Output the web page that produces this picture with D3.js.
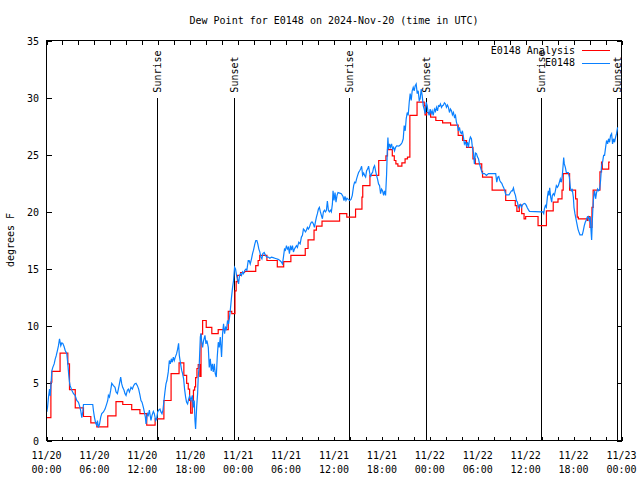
<!DOCTYPE html>
<html><head><meta charset="utf-8">
<script src="https://cdn.jsdelivr.net/npm/d3@7"></script>
<style>
body{margin:0;background:#fff;}
svg{display:block;font-family:"DejaVu Sans Mono","Liberation Mono",monospace;font-size:10px;}
</style></head>
<body><svg id="c" width="640" height="480"></svg>
<script>
const titleText = "Dew Point for E0148 on 2024-Nov-20 (time in UTC)";
const yLabelText = "degrees F";
const seriesNames = ["E0148 Analysis", "E0148"];
const yTickValues = [0, 5, 10, 15, 20, 25, 30, 35];
const eventNames = ["Sunrise", "Sunset", "Sunrise", "Sunset", "Sunrise", "Sunset"];
const eventHours = [13.875, 23.53, 37.875, 47.53, 61.875, 71.4];

// Analysis (red, stepwise) : hours since 2024-11-20 00:00 UTC, value
const redHours = [0,0.55,0.67,1.7,2.67,2.88,3.6,4.63,5.55,6.3,7.67,8.7,9.55,10.67,11.7,12.55,13.6,14.7,15.6,16.6,17.2,17.55,17.75,17.92,18.05,18.25,18.4,18.55,18.67,18.84,19.0,19.2,19.35,19.55,20.0,20.7,21.5,22.76,23.2,23.6,23.75,23.9,24.3,24.8,26.2,26.5,26.7,27.6,28.9,29.7,30.6,32.4,32.75,33.5,33.8,34.5,36.7,37.6,38.7,39.5,39.6,40.5,41.6,42.5,42.7,43.3,43.55,43.75,44.0,44.5,44.9,45.2,45.5,46.4,47.3,47.4,47.6,48.1,48.75,49.6,50.6,51.55,52.1,52.6,53.4,53.7,54.5,54.6,55.8,57.5,58.7,58.9,59.2,59.5,59.8,60.0,61.55,62.6,63.45,64.05,64.55,64.7,65.5,66.25,66.45,66.6,67.7,67.8,68.05,68.3,68.45,69.3,69.5,69.6,70.4,70.55];
const redValues = [2.0,5.1,6.05,7.65,6.7,4.45,2.85,2.1,1.55,1.2,2.15,3.4,3.15,2.7,2.35,1.35,1.9,3.5,5.85,6.8,5.7,5.0,4.5,3.5,2.4,3.5,4.4,4.7,5.5,6.3,6.65,5.6,9.3,10.5,9.9,9.35,9.7,11.3,11.1,13.1,13.9,14.45,14.7,14.8,15.3,15.75,16.2,15.75,15.2,15.65,16.2,16.8,17.55,18.4,18.75,19.2,19.85,19.55,20.25,21.3,22.3,23.2,24.5,24.9,25.45,24.9,24.5,24.2,24.0,24.3,24.65,24.8,28.45,29.6,29.3,28.5,28.7,28.3,28.0,27.8,27.6,26.7,26.25,25.65,24.65,24.2,23.55,23.05,21.9,21.0,20.55,20.05,20.6,19.85,19.4,19.6,18.8,20.1,20.85,21.15,21.9,23.35,21.9,21.15,19.55,19.4,19.25,19.6,18.65,20.4,21.9,23.5,24.35,23.75,24.35,24.35];

// Observations (blue)
const blueHours = [0.04,0.13,0.25,0.38,0.46,0.58,0.67,0.79,0.96,1.08,1.21,1.38,1.5,1.63,1.79,1.92,2.04,2.21,2.33,2.54,2.67,2.79,2.88,2.96,3.17,3.38,3.58,3.79,4.0,4.13,4.29,4.42,4.54,4.63,5.79,5.88,6.0,6.13,6.29,6.38,6.5,6.63,6.79,6.92,7.13,7.33,7.54,7.67,7.75,7.88,8.04,8.17,8.38,8.58,8.71,8.88,9.0,9.13,9.29,9.42,9.54,9.71,9.83,9.96,10.13,10.25,10.38,10.46,10.58,10.75,10.88,11.04,11.21,11.38,11.54,11.71,11.83,11.96,12.13,12.25,12.38,12.46,12.63,12.75,12.88,13.08,13.21,13.38,13.5,13.67,13.79,13.92,14.04,14.21,14.33,14.46,14.58,14.71,14.83,14.96,15.08,15.25,15.38,15.5,15.63,15.75,15.88,16.0,16.13,16.29,16.42,16.54,16.63,16.79,16.92,17.04,17.17,17.29,17.42,17.54,17.67,17.79,17.92,18.09,18.26,18.38,18.5,18.59,18.67,18.8,18.92,19.0,19.13,19.26,19.34,19.42,19.55,19.67,19.84,19.97,20.09,20.26,20.38,20.51,20.63,20.76,20.88,21.01,21.13,21.26,21.38,21.51,21.63,21.76,21.92,22.05,22.17,22.3,22.42,22.55,22.67,22.8,22.92,23.05,23.17,23.3,23.42,23.55,23.67,23.8,23.92,24.05,24.17,24.3,24.42,24.55,24.67,24.84,24.97,25.09,25.26,25.38,25.51,25.67,25.8,25.92,26.09,26.21,26.34,26.46,26.59,26.71,26.84,26.97,27.09,27.26,27.42,27.59,27.76,27.97,28.17,28.38,28.59,28.8,29.01,29.22,29.42,29.55,29.67,29.8,29.92,30.05,30.17,30.3,30.42,30.55,30.67,30.8,30.92,31.05,31.17,31.3,31.42,31.59,31.76,31.92,32.05,32.17,32.3,32.42,32.55,32.67,32.8,32.92,33.05,33.17,33.3,33.42,33.55,33.67,33.8,33.92,34.05,34.17,34.3,34.42,34.55,34.67,34.8,34.92,35.05,35.17,35.3,35.42,35.55,35.67,35.8,35.88,36.0,36.13,36.25,36.38,36.5,36.71,36.92,37.13,37.25,37.38,37.5,37.63,37.79,37.96,38.13,38.29,38.46,38.58,38.71,38.83,38.96,39.08,39.21,39.33,39.46,39.58,39.71,39.83,39.96,40.08,40.21,40.33,40.46,40.58,40.71,40.83,40.96,41.08,41.21,41.33,41.46,41.58,41.71,41.83,41.96,42.08,42.21,42.33,42.46,42.58,42.67,42.75,42.83,42.96,43.08,43.21,43.33,43.46,43.58,43.71,43.88,44.04,44.21,44.42,44.54,44.67,44.79,44.92,45.04,45.17,45.29,45.42,45.54,45.67,45.79,45.92,46.04,46.17,46.29,46.42,46.54,46.67,46.79,46.92,47.04,47.17,47.29,47.42,47.54,47.67,47.79,47.92,48.04,48.17,48.29,48.42,48.58,48.71,48.83,48.96,49.08,49.21,49.33,49.46,49.58,49.71,49.83,49.96,50.08,50.21,50.33,50.46,50.58,50.71,50.83,50.96,51.08,51.21,51.33,51.46,51.58,51.71,51.83,51.96,52.08,52.21,52.33,52.46,52.58,52.71,52.83,52.96,53.08,53.21,53.33,53.46,53.58,53.71,53.84,53.97,54.09,54.22,54.34,54.47,54.59,54.84,55.09,55.34,55.59,55.88,56.25,56.38,56.51,56.63,56.76,56.88,57.01,57.13,57.26,57.38,57.51,57.92,58.09,58.22,58.34,58.47,58.59,58.72,58.84,58.97,59.09,59.22,59.34,59.47,59.59,59.72,59.84,59.97,60.09,60.22,60.34,60.47,61.92,62.15,62.26,62.34,62.47,62.59,62.72,62.84,62.92,63.01,63.13,63.26,63.34,63.47,63.59,63.72,63.84,63.97,64.09,64.22,64.34,64.47,64.59,64.67,64.76,64.84,64.97,65.09,65.34,65.47,65.59,65.72,65.84,65.97,66.05,66.17,66.3,66.42,66.55,66.67,66.8,67.09,67.21,67.34,67.46,67.59,67.71,67.84,67.96,68.09,68.17,68.26,68.34,68.42,68.51,68.63,68.76,68.88,69.01,69.13,69.26,69.38,69.51,69.63,69.76,69.88,70.01,70.13,70.26,70.38,70.51,70.63,70.76,70.88,71.01,71.13,71.26,71.38,71.51];
const blueValues = [2.5,2.9,3.8,4.5,3.9,5.1,6.1,6.4,6.7,7.1,7.4,7.9,8.3,8.9,8.3,8.55,8.5,8.2,7.9,7.6,6.7,5.7,5.1,4.8,4.4,4.1,3.95,3.5,3.35,3.05,2.6,2.0,2.5,3.15,3.15,2.6,2.05,1.6,1.3,1.75,1.15,1.4,2.05,2.35,2.5,2.75,3.2,3.5,3.95,3.8,4.4,5.0,4.8,4.65,4.25,4.1,4.5,4.95,5.55,4.95,4.65,4.4,4.1,3.95,4.4,4.5,4.25,4.4,4.65,4.5,4.75,4.95,5.0,4.8,4.5,3.95,3.5,3.35,2.9,2.5,2.05,1.45,2.35,2.2,2.65,1.75,2.2,2.55,2.35,1.75,1.9,2.5,2.65,2.75,2.5,2.35,2.65,3.5,4.25,4.95,5.25,6.0,7.0,6.7,7.15,6.85,7.3,7.0,7.3,7.6,8.0,8.5,7.45,6.7,6.15,5.85,5.4,4.5,3.8,3.35,3.2,3.6,3.9,3.5,3.95,2.9,3.5,1.75,1.0,2.9,4.1,5.55,6.7,9.05,9.35,8.75,8.15,8.75,9.2,8.45,8.75,8.15,6.4,7.15,6.1,6.7,6.0,6.7,5.85,5.55,7.3,8.6,8.15,9.05,7.3,9.35,10.2,9.35,9.9,9.75,10.5,10.2,10.8,11.65,12.55,13.4,14.0,15.15,15.0,14.45,14.15,13.7,14.45,14.6,14.45,14.75,14.6,14.9,15.0,14.9,15.75,15.75,15.45,15.9,16.35,16.65,17.2,17.5,17.5,17.2,16.75,16.5,16.05,15.9,16.35,16.45,16.2,16.05,16.05,15.95,16.05,16.0,15.95,15.9,15.85,15.75,15.6,15.45,16.05,16.75,16.65,17.05,16.75,16.9,16.35,17.05,16.65,17.05,16.5,16.75,16.9,17.05,16.9,17.35,17.2,17.8,17.95,18.5,18.4,18.25,18.4,18.65,18.5,18.65,18.95,19.1,19.1,18.95,18.65,19.1,19.55,19.85,20.25,20.4,20.0,19.7,19.4,20.0,20.15,20.0,20.15,20.95,20.15,20.0,20.15,20.0,20.7,21.85,21.0,21.7,20.85,21.45,21.7,21.65,21.6,21.35,21.0,21.35,21.0,21.2,21.1,21.0,21.1,21.45,22.3,22.6,22.55,22.9,23.2,23.45,23.6,23.75,24.0,23.2,23.4,23.2,23.05,23.6,23.75,24.0,23.45,23.05,23.35,23.45,23.9,24.05,23.6,23.2,22.85,22.45,22.3,21.6,22.0,21.85,21.45,21.85,21.45,23.2,25.2,26.5,25.5,25.95,25.65,25.95,25.5,25.65,25.35,25.65,25.8,25.75,25.8,25.95,26.1,26.4,27.55,27.1,28.15,28.7,28.45,29.6,30.35,29.75,30.6,30.9,30.6,31.05,31.2,30.35,30.6,29.75,29.9,30.75,30.2,29.3,29.0,28.6,29.6,29.3,28.7,28.45,29.0,28.6,28.85,28.45,29.0,28.8,29.15,28.85,29.3,29.25,29.45,29.15,29.3,29.35,29.55,29.45,29.15,29.35,29.15,28.7,29.0,28.85,28.5,28.7,28.3,28.45,27.85,27.55,27.1,27.4,26.95,26.85,27.1,26.55,25.95,26.1,25.8,26.1,25.65,26.25,26.55,26.4,25.65,25.2,24.2,25.15,25.1,24.8,24.65,24.2,23.9,23.6,23.35,23.35,23.2,23.35,23.35,23.35,23.35,22.6,23.05,23.1,22.75,22.6,22.5,22.3,22.1,21.85,21.5,21.5,21.7,21.85,21.85,22.1,21.7,21.45,21.0,20.85,20.4,20.55,20.65,20.4,20.6,20.7,20.75,20.7,20.55,20.35,20.2,20.05,20.0,20.0,19.85,20.25,20.55,20.4,21.3,21.85,21.45,22.1,21.3,20.85,21.45,21.6,21.45,21.85,22.3,22.15,22.3,22.6,22.9,22.6,23.2,23.9,24.75,24.2,23.9,23.45,23.45,23.05,22.15,21.85,21.95,21.3,20.4,19.85,19.4,18.95,18.5,18.25,18.0,18.0,18.35,18.8,19.1,19.3,19.55,19.6,19.25,19.55,18.5,17.55,19.1,20.4,21.3,21.85,21.15,21.7,22.0,21.85,21.95,22.75,24.05,24.35,24.95,24.95,25.65,26.25,25.95,26.4,26.1,26.7,26.85,25.95,26.4,26.1,26.55,26.85,27.4];

const t0 = Date.UTC(2024, 10, 20, 0, 0);
const toDate = h => new Date(t0 + h * 3600e3);

const svg = d3.select("#c");
const L = 46.5, R = 621.5, T = 40.5, B = 440.5;
const x = d3.scaleUtc().domain([toDate(0), toDate(72)]).range([L, R]);
const y = d3.scaleLinear().domain([0, 35]).range([B, T]);

svg.append("rect").attr("width", 640).attr("height", 480).attr("fill", "#fff");

// Title
svg.append("text").attr("x", (L + R) / 2).attr("y", 24).attr("text-anchor", "middle").text(titleText);

// Y axis label
svg.append("text").attr("transform", "translate(14,240) rotate(-90)").attr("text-anchor", "middle").text(yLabelText);

// axes (inward ticks)
const crisp = g => g.attr("shape-rendering", "crispEdges");
svg.append("g").attr("transform", `translate(0,${B})`)
  .call(d3.axisBottom(x).ticks(d3.utcHour.every(2)).tickSize(-4).tickFormat(""))
  .call(g => g.select(".domain").remove()).call(crisp);
svg.append("g").attr("transform", `translate(0,${T})`)
  .call(d3.axisTop(x).ticks(d3.utcHour.every(2)).tickSize(-4).tickFormat(""))
  .call(g => g.select(".domain").remove()).call(crisp);
svg.append("g").attr("transform", `translate(${L},0)`)
  .call(d3.axisLeft(y).tickValues(yTickValues).tickSize(-5).tickFormat(""))
  .call(g => g.select(".domain").remove()).call(crisp);
svg.append("g").attr("transform", `translate(${R},0)`)
  .call(d3.axisRight(y).tickValues(yTickValues).tickSize(-5).tickFormat(""))
  .call(g => g.select(".domain").remove()).call(crisp);

// y tick labels
svg.append("g").selectAll("text").data(yTickValues).join("text")
  .attr("x", 39).attr("y", d => y(d) + 4).attr("text-anchor", "end").text(d => d);

// x tick labels
const xTicks = x.ticks(d3.utcHour.every(6));
const fDate = d3.utcFormat("%m/%d"), fTime = d3.utcFormat("%H:%M");
const xl = svg.append("g").selectAll("text").data(xTicks).join("text")
  .attr("text-anchor", "middle");
xl.append("tspan").attr("x", d => x(d)).attr("y", 459).text(d => fDate(d));
xl.append("tspan").attr("x", d => x(d)).attr("y", 473).text(d => fTime(d));

// event lines
const evG = svg.append("g");
eventHours.forEach((h, i) => {
  evG.append("line").attr("x1", Math.round(x(toDate(h))) + 0.5).attr("x2", Math.round(x(toDate(h))) + 0.5)
    .attr("y1", y(0)).attr("y2", y(30)).attr("stroke", "#000").attr("stroke-width", 1.3).attr("shape-rendering", "crispEdges");
  evG.append("text").attr("transform", `translate(${x(toDate(h)) + 4},${y(30) - 5}) rotate(-90)`)
    .attr("text-anchor", "start").text(eventNames[i]);
});

// series
const redData = redHours.map((h, i) => [toDate(h), redValues[i]]);
const blueData = blueHours.map((h, i) => [toDate(h), blueValues[i]]);
svg.append("path").datum(redData).attr("fill", "none").attr("stroke", "#ff0000").attr("stroke-width", 1.2)
  .attr("d", d3.line().x(d => x(d[0])).y(d => y(d[1])).curve(d3.curveStepAfter));
svg.append("path").datum(blueData).attr("fill", "none").attr("stroke", "#0a80ff").attr("stroke-width", 1.2)
  .attr("d", d3.line().x(d => x(d[0])).y(d => y(d[1])));

// frame
svg.append("rect").attr("x", L).attr("y", T).attr("width", R - L).attr("height", B - T)
  .attr("fill", "none").attr("stroke", "#000").attr("shape-rendering", "crispEdges");

// legend
const legColors = ["#ff0000", "#0a80ff"];
const lg = svg.append("g");
seriesNames.forEach((n, i) => {
  const yy = 50 + i * 12.5;
  lg.append("text").attr("x", 575).attr("y", yy + 3.5).attr("text-anchor", "end").text(n);
  lg.append("line").attr("x1", 582).attr("x2", 610).attr("y1", Math.round(yy) + 0.5).attr("y2", Math.round(yy) + 0.5)
    .attr("stroke", legColors[i]).attr("stroke-width", 1.2).attr("shape-rendering", "crispEdges");
});
</script></body></html>
